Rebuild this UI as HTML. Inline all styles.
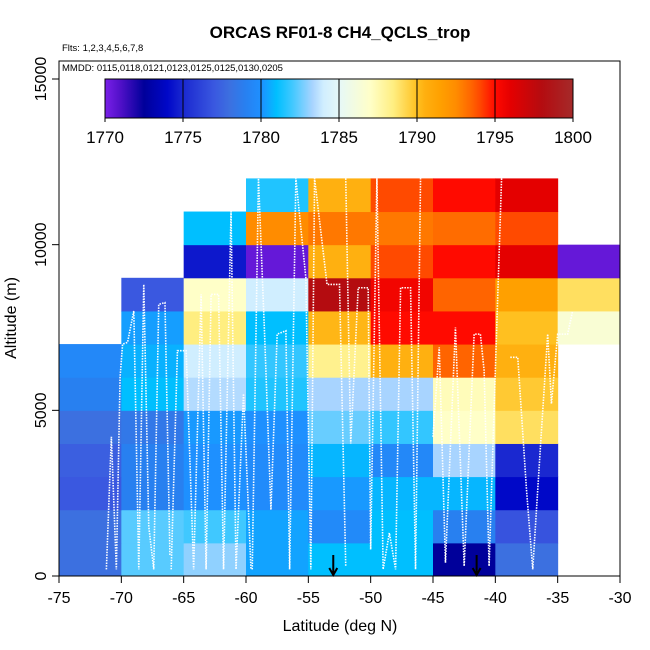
<!DOCTYPE html>
<html><head><meta charset="utf-8"><style>
html,body{margin:0;padding:0;background:#fff;}
svg{display:block;font-family:"Liberation Sans",sans-serif;}
</style></head><body>
<svg id="chart" width="650" height="650" viewBox="0 0 650 650" xmlns="http://www.w3.org/2000/svg">
<g id="cells"></g>
<g id="tracks"></g>
<g id="arrows"></g>
<rect x="59" y="61" width="561" height="515" fill="none" stroke="#000" stroke-width="1"/>
<g id="axes"></g>
<g id="cbar"></g>
<text x="340" y="38" text-anchor="middle" font-size="17" font-weight="bold">ORCAS RF01-8 CH4_QCLS_trop</text>
<text x="62" y="51" font-size="9.5">Flts: 1,2,3,4,5,6,7,8</text>
<text x="62" y="71" font-size="9.5">MMDD: 0115,0118,0121,0123,0125,0125,0130,0205</text>
<text x="340" y="631" text-anchor="middle" font-size="16">Latitude (deg N)</text>
<text x="0" y="0" transform="translate(16,318) rotate(-90)" text-anchor="middle" font-size="16">Altitude (m)</text>
</svg>
<script>
// column lower-edge latitudes, row lower-edge altitudes
const latBins = [-75,-70,-65,-60,-55,-50,-45,-40,-35];
const altBins = [0,1000,2000,3000,4000,5000,6000,7000,8000,9000,10000,11000];
// CH4 (ppb) per row (bottom to top), per column; null = no data
const ch4Rows = [
 [1778,1782.3,1783,1780.4,1781,1781,1772.5,1778,null],
 [1778,1782.3,1782,1780.4,1779.6,1781,1779,1776.8,null],
 [1777,1779,1780,1779.7,1780.2,1780.8,1780.8,1774,null],
 [1777.3,1779,1780,1779.7,1780.8,1779.5,1783.3,1775,null],
 [1778,1778.5,1780.2,1780,1782.5,1781.8,1787,1789,null],
 [1779,1781,1783.5,1781.5,1783.3,1783.3,1787.3,1789.7,null],
 [1779.5,1780.7,1784,1781.8,1788.2,1790.5,1793.5,1790.5,null],
 [null,1780.3,1788.5,1781,1790.3,1795,1795,1790,1786.5],
 [null,1777,1787,1784,1798,1795.5,1793.5,1791.5,1789],
 [null,null,1774.5,1770.5,1790.5,1794,1795,1796,1770.5],
 [null,null,1781,1792.5,1793,1793,1793.3,1794,null],
 [null,null,null,1781.5,1790.5,1794,1795,1796,null]
];
const cbTicks = [1770,1775,1780,1785,1790,1795,1800];
const xTicks = [-75,-70,-65,-60,-55,-50,-45,-40,-35,-30];
const yTicks = [0,5000,10000,15000];
const arrowLats = [-53,-41.5];
// flight track samples [lat, alt]
const tracks = [
 [[-71.2,200],[-70.8,4200],[-70.4,200],[-70.1,6000],[-69.9,7000],[-69.5,7050],[-69.0,8000],[-68.6,200],[-68.2,8800],[-67.8,1500],[-67.4,200],[-67,8200],[-66.5,8250],[-66.1,600]],
 [[-66,200],[-65.5,6800],[-64.8,6800],[-64.2,200],[-63.6,8500],[-63.2,200],[-62.8,8500],[-62.2,8500],[-61.8,200],[-61.2,11000],[-60.8,200],[-60.2,5500],[-59.6,200]],
 [[-59.5,200],[-59,12000],[-58.5,7200],[-58,2000],[-57.5,7300],[-56.8,7400],[-56.5,200],[-56,12000],[-55.2,9000],[-54.8,200],[-54.5,12000],[-53.5,8800],[-52.5,8800],[-52,300]],
 [[-52,12000],[-51.6,4000],[-51,8700],[-50.2,8700],[-50,800],[-49.5,12000],[-49,200],[-48.5,1300],[-48,200],[-47.6,8700],[-46.8,8700],[-46.4,200],[-46,12000]],
 [[-45,4200],[-44.5,6900],[-44,400],[-43.2,7500],[-42.5,300],[-41.7,7300],[-41.2,7300],[-40.9,6200],[-40.5,300],[-40,6200],[-39.5,12000]],
 [[-38.8,6600],[-38.2,6600],[-37.5,2600],[-37,200],[-36.4,3800],[-35.8,7300],[-35.5,5200],[-35,7300],[-34.2,7300],[-33.8,8000]]
];

const X = lat => 59 + (lat + 75) * 561 / 45;
const Y = alt => 576 - alt * 497 / 15000;
const NS = 'http://www.w3.org/2000/svg';
function mk(tag, attrs, parent){const e=document.createElementNS(NS,tag);for(const k in attrs)e.setAttribute(k,attrs[k]);parent.appendChild(e);return e;}

const stops=[[1770,'#7a20e8'],[1771,'#5010c8'],[1772.5,'#00009a'],[1774,'#0008c8'],[1775,'#1a28d0'],[1777,'#3a58e0'],[1778,'#3c70e0'],[1779,'#2880f0'],[1780,'#1e90ff'],[1781,'#00bfff'],[1782,'#40c8ff'],[1783.3,'#a8d4ff'],[1784,'#d0eeff'],[1785,'#e6f8f8'],[1787,'#ffffc8'],[1788.5,'#ffee80'],[1790,'#ffc020'],[1790.5,'#ffb010'],[1791.5,'#ffa000'],[1792.5,'#ff8c00'],[1793.5,'#ff6400'],[1794,'#ff4a00'],[1795,'#ff0a00'],[1796,'#e40000'],[1798,'#b40c10'],[1800,'#a52a2a']];
function hx(c){return [1,3,5].map(i=>parseInt(c.substr(i,2),16));}
function cmap(v){
 if(v<=stops[0][0])return stops[0][1];
 for(let i=1;i<stops.length;i++){if(v<=stops[i][0]){const a=stops[i-1],b=stops[i];const t=(v-a[0])/(b[0]-a[0]);const ca=hx(a[1]),cb=hx(b[1]);return 'rgb('+ca.map((x,j)=>Math.round(x+(cb[j]-x)*t)).join(',')+')';}}
 return stops[stops.length-1][1];
}

const gc=document.getElementById('cells');
ch4Rows.forEach((row,r)=>row.forEach((v,c)=>{
 if(v===null)return;
 const x0=X(latBins[c]),x1=X(latBins[c]+5),y0=Y(altBins[r]+1000),y1=Y(altBins[r]);
 const el=mk('rect',{x:x0,y:y0,width:x1-x0+0.5,height:y1-y0+0.5,fill:cmap(v)},gc);
 
 
}));

const gt=document.getElementById('tracks');
tracks.forEach(t=>{
 const el=mk('polyline',{points:t.map(p=>X(p[0])+','+Y(p[1])).join(' '),fill:'none',stroke:'#fff','stroke-width':1.6,'stroke-dasharray':'1.5 1.2'},gt);
 
 
});

const ga=document.getElementById('arrows');
arrowLats.forEach(l=>{
 const x=X(l);
 const el=mk('path',{d:`M${x},555 L${x},575 M${x-4},568 L${x},575 L${x+4},568`,stroke:'#000','stroke-width':2,fill:'none'},ga);
 
 
});

const gx=document.getElementById('axes');
xTicks.forEach(t=>{
 const x=X(t);
 mk('line',{x1:x,y1:576,x2:x,y2:583,stroke:'#000'},gx);
 const tx=mk('text',{x:x,y:603,'text-anchor':'middle','font-size':16},gx);tx.textContent=t;
 
 
});
yTicks.forEach(t=>{
 const y=Y(t);
 mk('line',{x1:52,y1:y,x2:59,y2:y,stroke:'#000'},gx);
 const tx=mk('text',{x:0,y:0,transform:`translate(46,${y}) rotate(-90)`,'text-anchor':'middle','font-size':16},gx);tx.textContent=t;
 
 
});

const gb=document.getElementById('cbar');
const cbX0=105,cbX1=573,cbY0=79,cbY1=118;
const CX=v=>cbX0+(v-1770)*(cbX1-cbX0)/30;
const defs=mk('defs',{},gb);
const grad=mk('linearGradient',{id:'cg',x1:0,x2:1,y1:0,y2:0},defs);
stops.forEach(s=>mk('stop',{offset:((s[0]-1770)/30),'stop-color':s[1]},grad));
mk('rect',{x:cbX0,y:cbY0,width:cbX1-cbX0,height:cbY1-cbY0,fill:'url(#cg)',stroke:'#000'},gb);
cbTicks.forEach(t=>{
 const x=CX(t);
 mk('line',{x1:x,y1:cbY0,x2:x,y2:cbY1+4,stroke:'#000'},gb);
 const tx=mk('text',{x:x,y:143,'text-anchor':'middle','font-size':17},gb);tx.textContent=t;
 
 
});
</script>
</body></html>
